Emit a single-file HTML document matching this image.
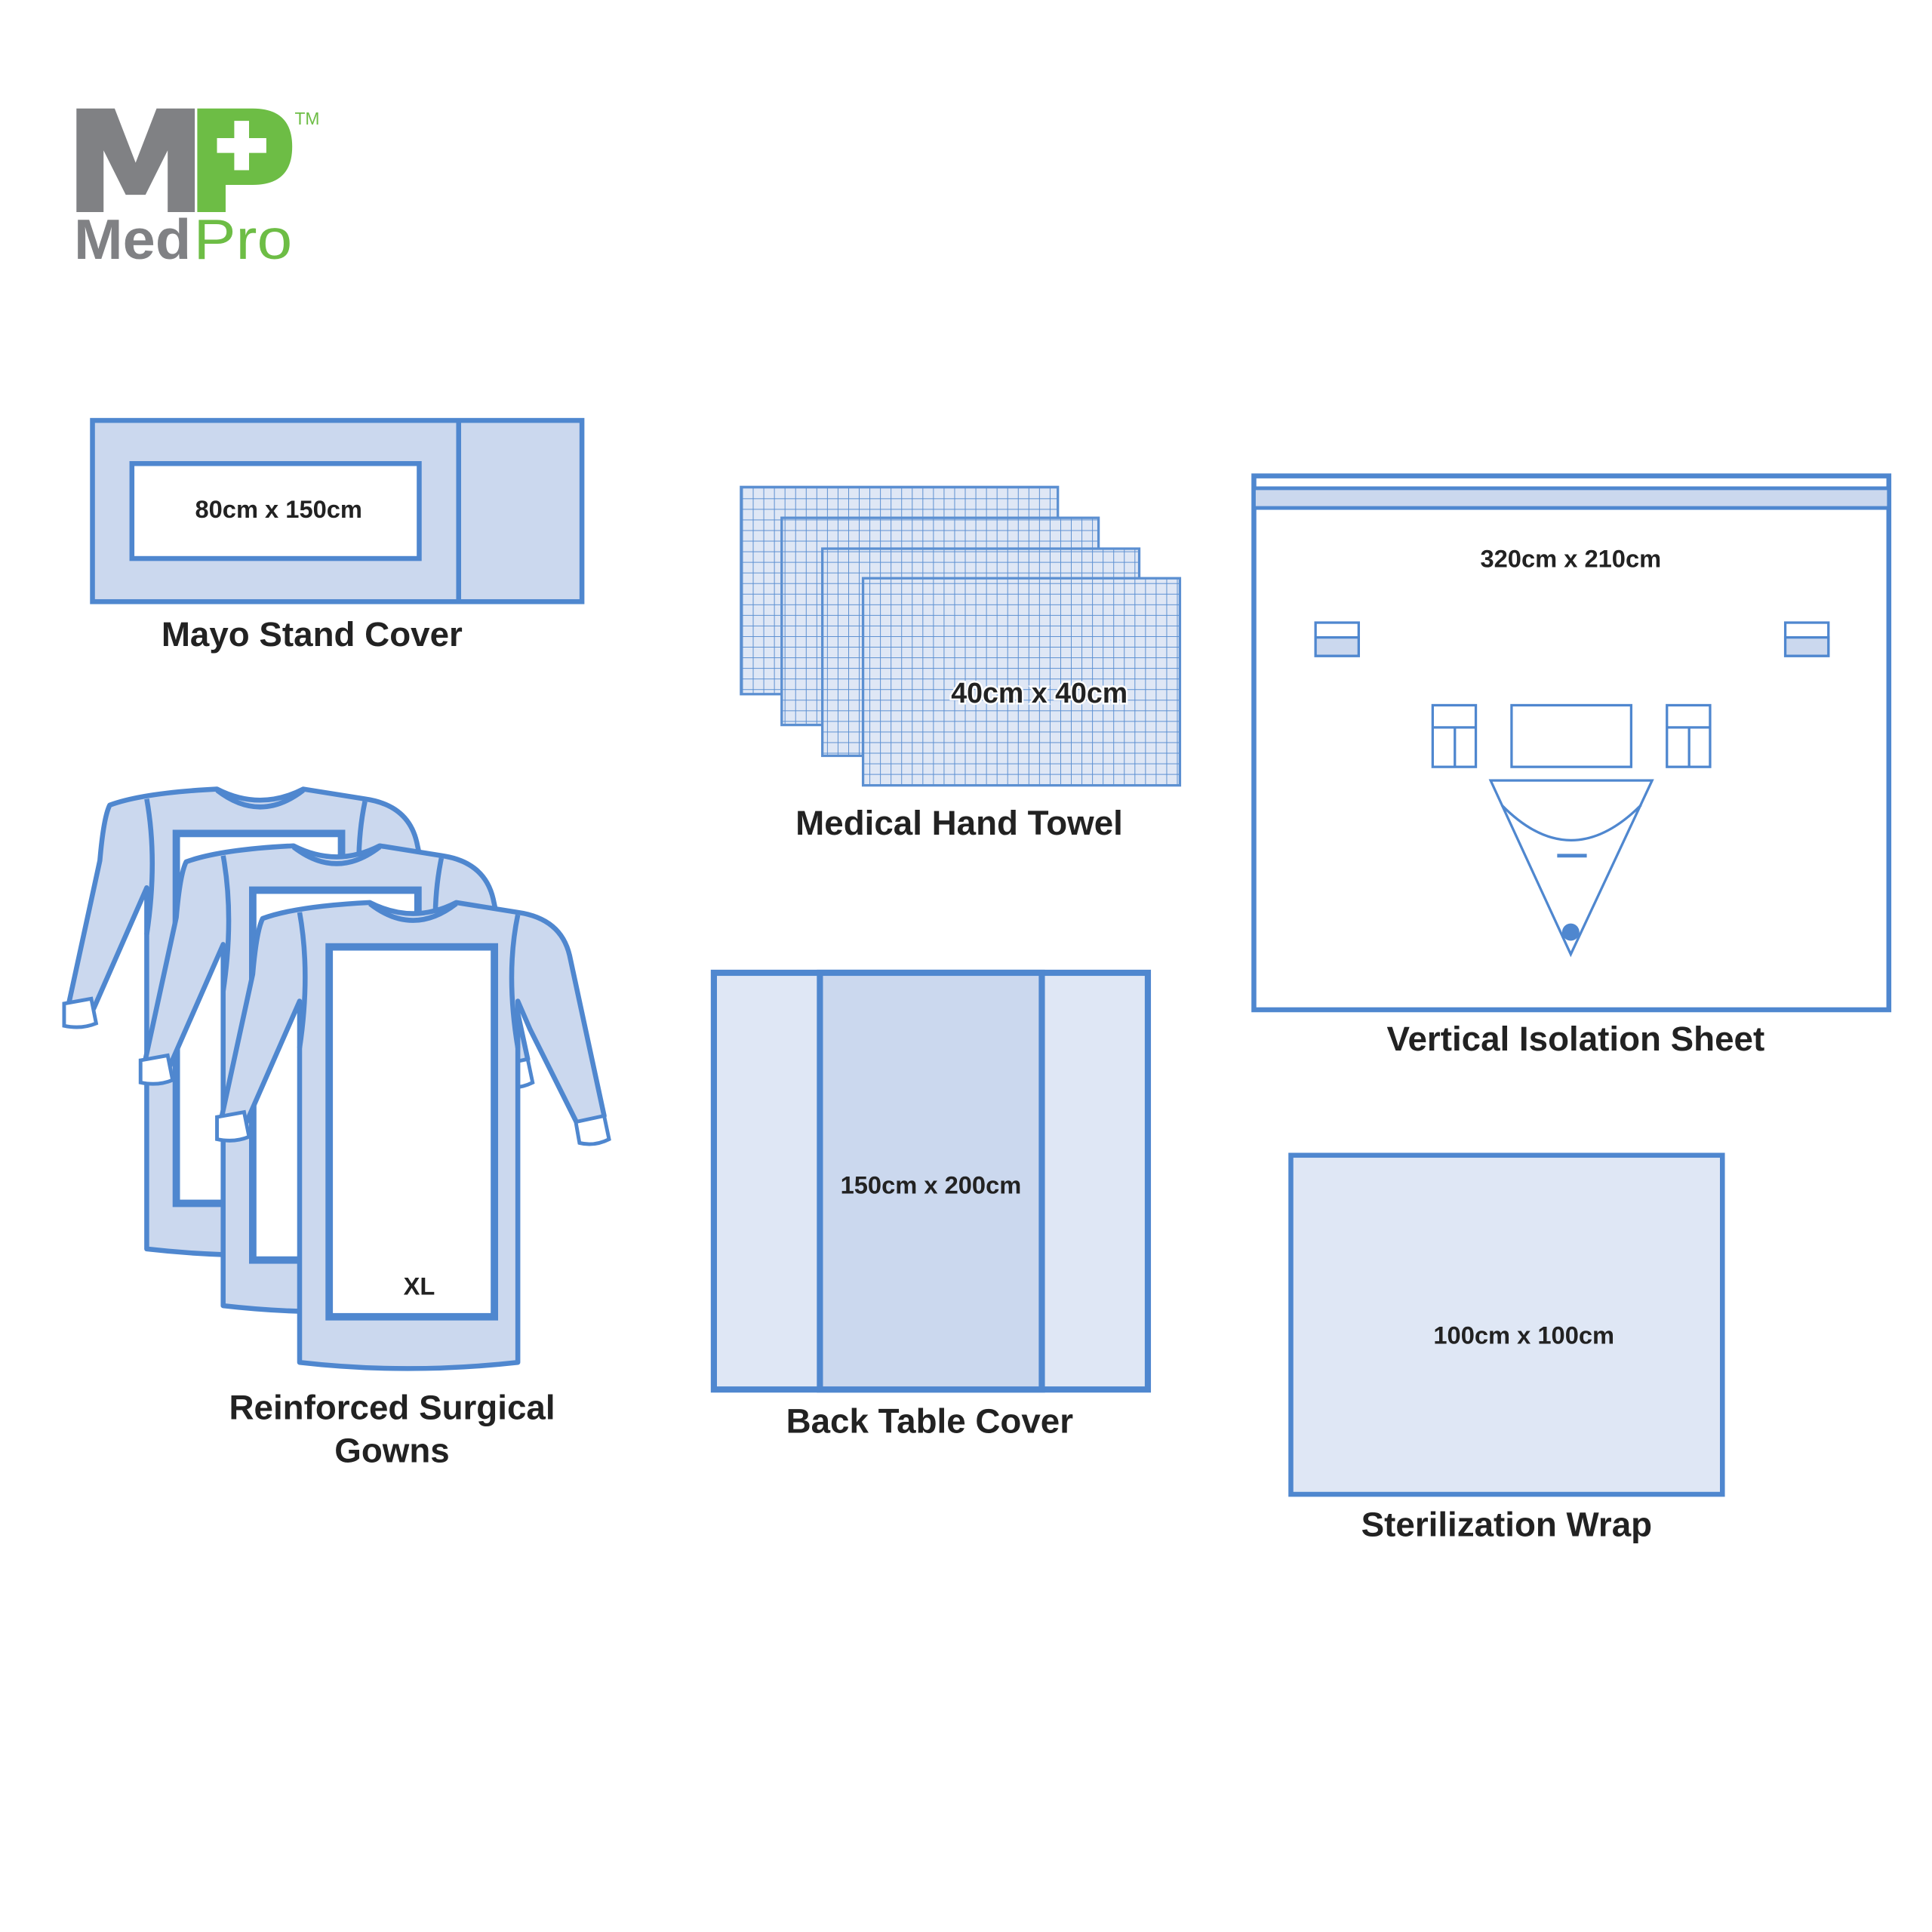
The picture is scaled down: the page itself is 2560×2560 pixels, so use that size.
<!DOCTYPE html>
<html><head><meta charset="utf-8"><style>html,body{margin:0;padding:0;background:#fff}svg{display:block}</style></head>
<body>
<svg width="2560" height="2560" viewBox="0 0 1567 1567" xmlns="http://www.w3.org/2000/svg" font-family="Liberation Sans, Arial, sans-serif">
<defs>
<pattern id="grid" width="8.6" height="8.6" patternUnits="userSpaceOnUse">
<rect width="8.6" height="8.6" fill="#dfe7f5"/>
<path d="M0 0H8.6M0 0V8.6" stroke="#5b8fd1" stroke-width="1.2"/>
</pattern>
<g id="gown">
<path d="M213,745 Q240,735 300,732 Q335,750 370,732 L420,740 Q455,745 462,775 L490,905 L470,915 L430,835 L420,812 L420,1105 Q330,1115 243,1105 L243,812 L200,910 L180,905 L205,790 Q208,755 213,745 Z" fill="#cbd8ee" stroke="#4f87cf" stroke-width="4" stroke-linejoin="round"/>
<path d="M243,740 Q252,790 243,850" fill="none" stroke="#4f87cf" stroke-width="4"/>
<path d="M420,742 Q410,790 420,850" fill="none" stroke="#4f87cf" stroke-width="4"/>
<path d="M300,733 Q335,760 370,733" fill="none" stroke="#4f87cf" stroke-width="4"/>
<rect x="267" y="768" width="134" height="300" fill="#fff" stroke="#4f87cf" stroke-width="6"/>
<path d="M176,906 L198,902 L202,922 Q190,927 176,924 Z" fill="#fff" stroke="#4f87cf" stroke-width="3"/>
<path d="M467,910 L490,905 L494,924 Q482,930 470,927 Z" fill="#fff" stroke="#4f87cf" stroke-width="3"/>
</g>
</defs>

<!-- Logo -->
<path d="M62,172 V88 H93 L110,132 L127,88 H158 V172 H136 V122 L118,158 H102 L84,122 V172 Z" fill="#808184"/>
<path d="M160,172 V88 H205 Q237,88 237,119 Q237,150 205,150 H183 V172 Z" fill="#6dbd45"/>
<path d="M190,98h12v14h14v12h-14v14h-12v-14h-14v-12h14z" fill="#fff"/>
<text x="239" y="101" font-size="14" fill="#6dbd45">TM</text>
<text x="60" y="210" font-size="46" font-weight="bold" fill="#808184" textLength="95" lengthAdjust="spacingAndGlyphs">Med</text>
<text x="157" y="210" font-size="46" fill="#6dbd45" textLength="80" lengthAdjust="spacingAndGlyphs">Pro</text>

<!-- Mayo stand cover -->
<rect x="75" y="341" width="397" height="147" fill="#cbd8ee" stroke="#4f87cf" stroke-width="4"/>
<line x1="372" y1="341" x2="372" y2="488" stroke="#4f87cf" stroke-width="4"/>
<rect x="107" y="376" width="233" height="77" fill="#fff" stroke="#4f87cf" stroke-width="4"/>
<text x="226" y="420" font-size="20" font-weight="bold" fill="#222" text-anchor="middle">80cm x 150cm</text>
<text x="253" y="524" font-size="28" font-weight="bold" fill="#222" text-anchor="middle">Mayo Stand Cover</text>

<!-- Towels -->
<rect x="601" y="395" width="257" height="168" fill="url(#grid)" stroke="#5b8fd1" stroke-width="2"/>
<rect x="634" y="420" width="257" height="168" fill="url(#grid)" stroke="#5b8fd1" stroke-width="2"/>
<rect x="667" y="445" width="257" height="168" fill="url(#grid)" stroke="#5b8fd1" stroke-width="2"/>
<rect x="700" y="469" width="257" height="168" fill="url(#grid)" stroke="#5b8fd1" stroke-width="2"/>
<text x="843" y="570" font-size="23" font-weight="bold" fill="#222" text-anchor="middle" stroke="#fff" stroke-width="3" paint-order="stroke">40cm x 40cm</text>
<text x="778" y="677" font-size="28" font-weight="bold" fill="#222" text-anchor="middle">Medical Hand Towel</text>

<!-- Vertical isolation sheet -->
<rect x="1017" y="386" width="515" height="433" fill="#fff" stroke="#4f87cf" stroke-width="4"/>
<rect x="1017" y="396" width="515" height="16" fill="#cbd8ee" stroke="#4f87cf" stroke-width="3"/>
<text x="1274" y="460" font-size="20" font-weight="bold" fill="#222" text-anchor="middle">320cm x 210cm</text>
<g fill="none" stroke="#4f87cf" stroke-width="2">
<rect x="1067" y="505" width="35" height="27"/><rect x="1067" y="517" width="35" height="15" fill="#cbd8ee"/>
<rect x="1448" y="505" width="35" height="27"/><rect x="1448" y="517" width="35" height="15" fill="#cbd8ee"/>
<rect x="1162" y="572" width="35" height="50"/><path d="M1162,590H1197M1180,590V622"/>
<rect x="1226" y="572" width="97" height="50"/>
<rect x="1352" y="572" width="35" height="50"/><path d="M1352,590H1387M1370,590V622"/>
<path d="M1209,633H1340L1274,774Z"/>
<path d="M1218,653 Q1274,710 1331,653"/>
<path d="M1263,694H1287" stroke-width="3"/>
</g>
<circle cx="1274" cy="756" r="7" fill="#4f87cf"/>
<text x="1278" y="852" font-size="28" font-weight="bold" fill="#222" text-anchor="middle">Vertical Isolation Sheet</text>

<!-- Gowns -->
<use href="#gown" x="-124" y="-92"/>
<use href="#gown" x="-62" y="-46"/>
<use href="#gown"/>
<text x="340" y="1050" font-size="20" font-weight="bold" fill="#222" text-anchor="middle">XL</text>
<text x="318" y="1151" font-size="28" font-weight="bold" fill="#222" text-anchor="middle">Reinforced Surgical</text>
<text x="318" y="1186" font-size="28" font-weight="bold" fill="#222" text-anchor="middle">Gowns</text>

<!-- Back table cover -->
<rect x="579" y="789" width="352" height="338" fill="#dfe7f5" stroke="#4f87cf" stroke-width="5"/>
<rect x="665" y="789" width="180" height="338" fill="#cbd8ee" stroke="#4f87cf" stroke-width="5"/>
<text x="755" y="968" font-size="20" font-weight="bold" fill="#222" text-anchor="middle">150cm x 200cm</text>
<text x="754" y="1162" font-size="28" font-weight="bold" fill="#222" text-anchor="middle">Back Table Cover</text>

<!-- Sterilization wrap -->
<rect x="1047" y="937" width="350" height="275" fill="#dfe7f5" stroke="#4f87cf" stroke-width="4"/>
<text x="1236" y="1090" font-size="20" font-weight="bold" fill="#222" text-anchor="middle">100cm x 100cm</text>
<text x="1222" y="1246" font-size="28" font-weight="bold" fill="#222" text-anchor="middle">Sterilization Wrap</text>
</svg>
</body></html>
